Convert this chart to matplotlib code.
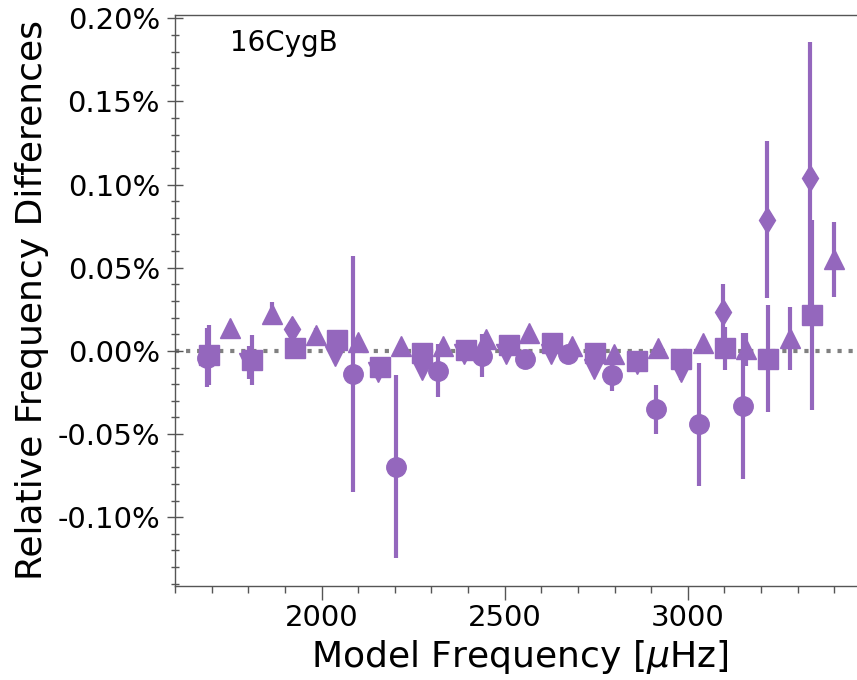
import matplotlib
matplotlib.use("Agg")
import matplotlib.pyplot as plt
from matplotlib.ticker import MultipleLocator, FuncFormatter

# ---- data (relative frequency differences in percent) ----
nu_circle = [1686.0, 2086.3, 2202.0, 2318.3, 2436.8, 2555.0, 2673.2, 2791.7, 2911.8, 3030.0, 3149.3]
dv_circle = [-0.004, -0.014, -0.0698, -0.012, -0.003, -0.005, -0.002, -0.0146, -0.035, -0.044, -0.033]
er_circle = [0.018, 0.071, 0.055, 0.016, 0.013, 0.004, 0.003, 0.0096, 0.0147, 0.037, 0.044]

nu_tri = [1749.7, 1865.7, 1984.4, 2099.1, 2216.5, 2331.2, 2448.6, 2566.0, 2682.5,
          2799.4, 2918.1, 3041.0, 3158.4, 3278.5, 3397.8]
dv_tri = [0.0136, 0.0223, 0.0097, 0.0052, 0.003, 0.003, 0.007, 0.0106, 0.003,
          -0.002, 0.0016, 0.0046, 0.001, 0.0076, 0.055]
er_tri = [0.003, 0.007, 0.004, 0.003, 0.003, 0.003, 0.003, 0.003, 0.003,
          0.003, 0.003, 0.004, 0.010, 0.019, 0.0225]

nu_sq = [1693.7, 1810.5, 1928.5, 2043.1, 2158.3, 2275.2, 2393.9, 2511.3, 2627.9,
         2746.1, 2862.1, 2980.9, 3100.2, 3218.4, 3338.5]
dv_sq = [-0.0023, -0.0056, 0.0016, 0.0064, -0.0095, -0.0014, 0.0004, 0.0034, 0.0046,
         -0.0014, -0.0062, -0.005, 0.0016, -0.0047, 0.0217]
er_sq = [0.018, 0.015, 0.004, 0.004, 0.004, 0.004, 0.003, 0.003, 0.003,
         0.003, 0.004, 0.004, 0.013, 0.032, 0.057]

nu_vtri = [1801.5, 2036.0, 2153.7, 2274.0, 2390.0, 2503.0, 2626.0, 2743.5, 2861.0, 2981.0]
dv_vtri = [-0.007, -0.003, -0.0128, -0.0116, -0.002, -0.002, -0.002, -0.011, -0.008, -0.0128]
er_vtri = [0.010, 0.004, 0.004, 0.004, 0.003, 0.003, 0.003, 0.004, 0.004, 0.005]

nu_dia = [1919.0, 3095.7, 3214.9, 3333.4]
dv_dia = [0.013, 0.0234, 0.079, 0.104]
er_dia = [0.004, 0.0166, 0.047, 0.082]

label_text = "16CygB"
xlabel = r"Model Frequency [$\mu$Hz]"
ylabel = "Relative Frequency Differences"

color = "#9467bd"
spine_c = "#555555"

fig = plt.figure(figsize=(8.57, 6.8), dpi=100)
ax = fig.add_axes([175 / 857, (680 - 586) / 680, 689 / 857, 571 / 680])

ax.axhline(0, ls=":", color="grey", lw=3, zorder=1)

series = [
    (nu_vtri, dv_vtri, er_vtri, "v", 14),
    (nu_sq, dv_sq, er_sq, "s", 14),
    (nu_circle, dv_circle, er_circle, "o", 14),
    (nu_tri, dv_tri, er_tri, "^", 14),
    (nu_dia, dv_dia, er_dia, "d", 13),
]
for nu, dv, er, m, ms in series:
    ax.errorbar(nu, dv, yerr=er, fmt=m, color=color, ms=ms, mec=color,
                elinewidth=3, capsize=0, zorder=3)

ax.set_xlim(1600, 3481)
ax.set_ylim(-0.1414, 0.202)

ax.xaxis.set_major_locator(MultipleLocator(500))
ax.xaxis.set_minor_locator(MultipleLocator(100))
ax.yaxis.set_major_locator(MultipleLocator(0.05))
ax.yaxis.set_minor_locator(MultipleLocator(0.01))


def pct(v, pos):
    if abs(v) < 1e-9:
        v = 0.0
    return f"{v:.2f}%"


ax.yaxis.set_major_formatter(FuncFormatter(pct))

ax.tick_params(axis="x", which="major", direction="out", length=10, width=1,
               color=spine_c, labelsize=21, pad=3)
ax.tick_params(axis="x", which="minor", direction="out", length=5, width=1,
               color=spine_c)
ax.tick_params(axis="y", which="major", direction="inout", length=11.5, width=1,
               color=spine_c, labelsize=21, pad=5)
ax.tick_params(axis="y", which="minor", direction="inout", length=5.5, width=1,
               color=spine_c)

for s in ax.spines.values():
    s.set_color(spine_c)
    s.set_linewidth(1)
ax.spines["right"].set_visible(False)

ax.set_xlabel(xlabel, fontsize=26, labelpad=4)
ax.set_ylabel(ylabel, fontsize=26, labelpad=6)

ax.text(0.0805, 0.937, label_text, transform=ax.transAxes, fontsize=20,
        va="baseline", ha="left")

fig.savefig("out.png", dpi=100)
